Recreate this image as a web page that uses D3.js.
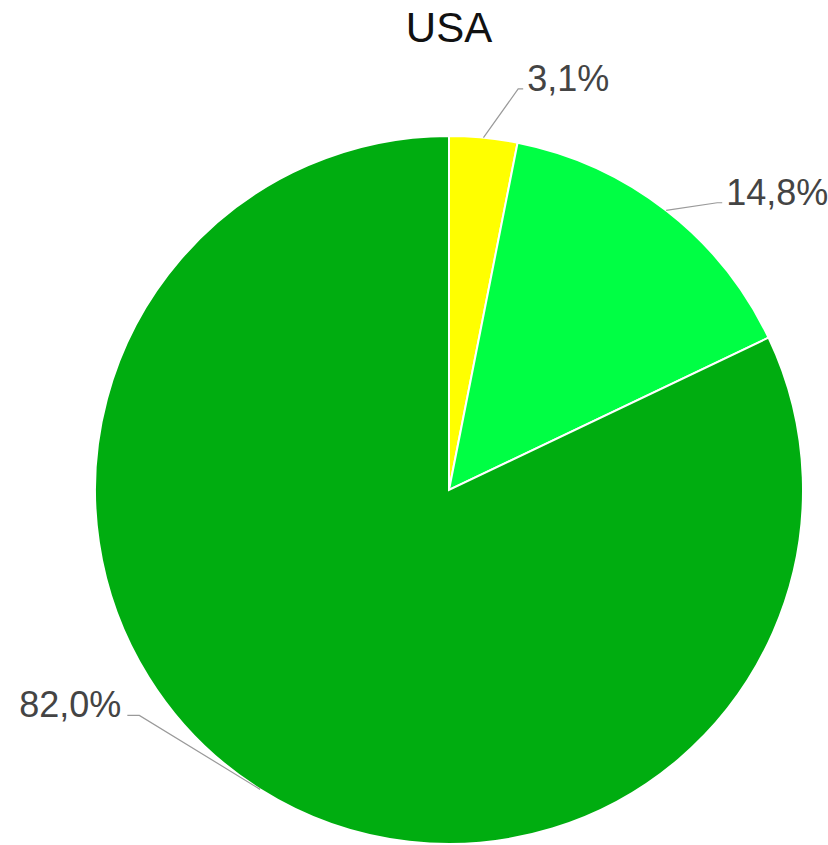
<!doctype html>
<html lang="en">
<head>
    <meta charset="UTF-8">
    <title>USA</title>
    <script src="https://d3js.org/d3.v7.min.js"></script>
    <style>
        body { margin: 0; background: #fff; }
        svg { display: block; font-family: "Liberation Sans", Arial, sans-serif; }
    </style>
</head>
<body>
<div id="chart"></div>
<script>
  // Data
  const title = 'USA'
  const categories = ['A', 'B', 'C']
  const values = [3.1, 14.8, 82.0]
  const labels = ['3,1%', '14,8%', '82,0%']
  const colors = ['#ffff00', '#00ff44', '#00ad10']

  // label leader layout (elbow offset from slice mid angle, in degrees, and elbow radius)
  const leader = [
    {shift: 4.2, r: 407, tail: 5},
    {shift: 5.2, r: 393, tail: 5},
    {shift: 21.7, r: 383, tail: 12}
  ]

  const dimensions = {
    width: 828,
    height: 845,
    cx: 449,
    cy: 490,
    radius: 354
  }

  const svg = d3.select('#chart')
    .append('svg')
    .attr('width', dimensions.width)
    .attr('height', dimensions.height)

  svg.append('text')
    .attr('x', dimensions.cx)
    .attr('y', 42)
    .attr('text-anchor', 'middle')
    .style('font-size', '42px')
    .style('fill', '#111')
    .text(title)

  const container = svg.append('g')
    .attr('transform', `translate(${dimensions.cx}, ${dimensions.cy})`)

  const pie = d3.pie().sort(null).value(d => d.value)
  const arcs = pie(categories.map((c, i) => ({cat: c, value: values[i], i})))

  const arc = d3.arc().innerRadius(0).outerRadius(dimensions.radius)

  container.selectAll('path.slice')
    .data(arcs)
    .join('path')
    .attr('class', 'slice')
    .attr('d', arc)
    .attr('fill', d => colors[d.data.i])
    .attr('stroke', '#fff')
    .attr('stroke-width', 2)

  const polar = (a, r) => [r * Math.sin(a), -r * Math.cos(a)]

  arcs.forEach(d => {
    const i = d.data.i
    const mid = (d.startAngle + d.endAngle) / 2
    const start = polar(mid, dimensions.radius)
    const elbow = polar(mid + leader[i].shift * Math.PI / 180, leader[i].r)
    const right = elbow[0] >= 0
    const end = [elbow[0] + (right ? leader[i].tail : -leader[i].tail), elbow[1]]

    container.append('polyline')
      .attr('points', [start, elbow, end].map(p => p.join(',')).join(' '))
      .attr('fill', 'none')
      .attr('stroke', '#9a9a9a')
      .attr('stroke-width', 1.2)

    container.append('text')
      .attr('x', end[0] + (right ? 4 : -6))
      .attr('y', end[1] + 2)
      .attr('text-anchor', right ? 'start' : 'end')
      .style('font-size', '36px')
      .style('fill', '#444')
      .text(labels[i])
  })
</script>
</body>
</html>
